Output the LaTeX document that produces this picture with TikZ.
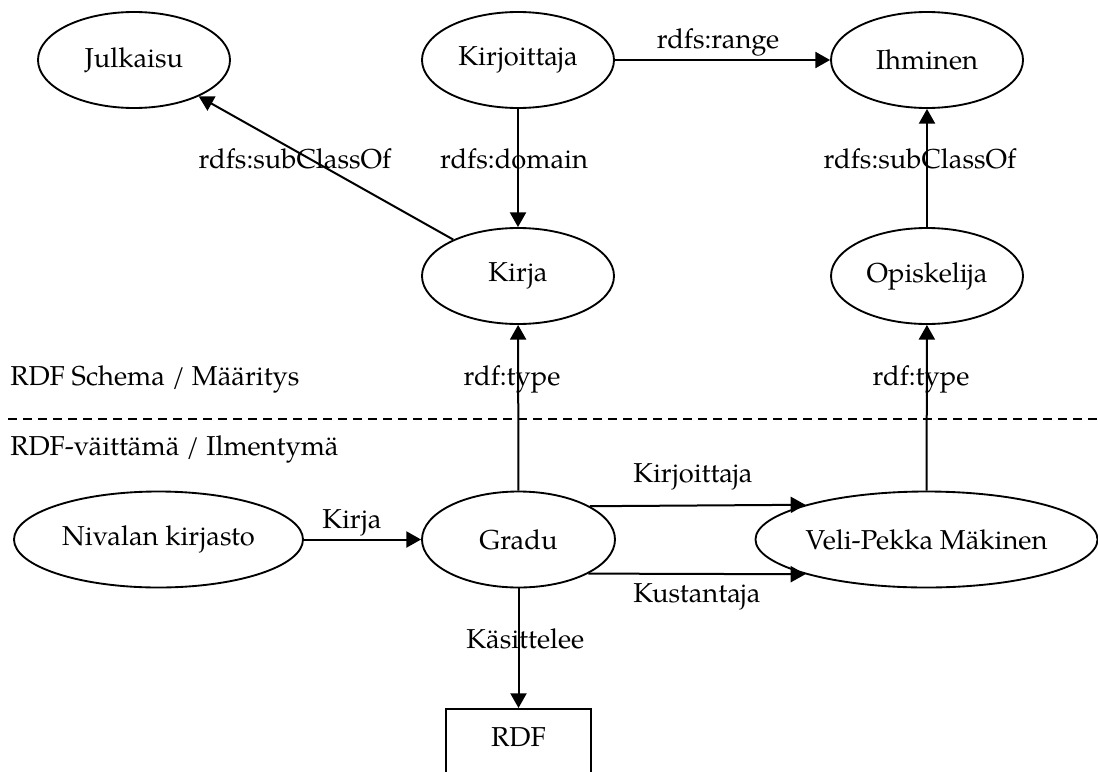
\documentclass[tikz,border=0pt]{standalone}
\usepackage{fontspec}
\setmainfont{TeX Gyre Pagella}
\usetikzlibrary{arrows.meta,shapes.geometric}

\tikzset{
  every node/.style={font=\fontsize{20.5}{24}\selectfont},
  cls/.style={ellipse, draw, line width=1.4pt, inner sep=0pt,
              minimum width=144pt, minimum height=72pt},
  arr/.style={line width=1.5pt, -{Triangle[length=11pt,width=12pt]}},
  lab/.style={anchor=base, inner sep=0pt},
  labw/.style={anchor=base west, inner sep=0pt},
  divider/.style={line width=1.4pt, dash pattern=on 6.75pt off 4.5pt},
  litbox/.style={rectangle, draw, line width=1.4pt, anchor=north,
                 minimum width=108.75pt, text height=20pt, text depth=40pt,
                 inner ysep=8.5pt}
}

\begin{document}
\begin{tikzpicture}[x=0.75pt, y=-0.75pt]
\useasboundingbox (0,0) rectangle (1098,771);

% schema level classes
\node[cls] (jul)   at (134,60)  {Julkaisu};
\node[cls] (kirj)  at (518,60)  {Kirjoittaja};
\node[cls] (ihm)   at (927,60)  {Ihminen};
\node[cls] (kirja) at (518,276) {Kirja};
\node[cls] (opis)  at (927,276) {Opiskelija};

% instance level resources
\node[cls, minimum width=216.75pt] (niv)   at (158.5,539.5) {Nivalan kirjasto};
\node[cls, minimum width=144.75pt] (gradu) at (518.5,539.5) {Gradu};
\node[cls, minimum width=252.75pt] (veli)  at (926.5,539.5) {Veli-Pekka Mäkinen};
\node[litbox] (rdf) at (518.5,708) {RDF};

% layer divider and captions
\coordinate (divL) at (8,419);
\coordinate (divR) at (1098,419);
\draw[divider] (divL) -- (divR);
\node[labw] (schemaCap) at (10,385) {RDF Schema / Määritys};
\node[labw] (instCap)   at (10,455) {RDF-väittämä / Ilmentymä};

% schema relations
\draw[arr] (kirj) -- (ihm);
\draw[arr] (kirj) -- (kirja);
\draw[arr] (kirja) -- (jul);
\draw[arr] (opis) -- (ihm);

% type links across the layers
\draw[arr] (gradu) -- (kirja);
\draw[arr] (veli) -- (opis);

% instance statements
\draw[arr] (niv) -- (gradu);
\draw[arr] (gradu.25.9) -- (veli.164.5);
\draw[arr] (gradu.-26.5) -- (veli.-164.0);
\draw[arr] (gradu) -- (rdf);

% edge labels
\node[lab] (lRange)  at (718,48)  {rdfs:range};
\node[lab] (lDomain) at (514,168) {rdfs:domain};
\node[lab] (lSubL)   at (295,168) {rdfs:subClassOf};
\node[lab] (lSubR)   at (920,168) {rdfs:subClassOf};
\node[lab] (lTypeL)  at (512,385) {rdf:type};
\node[lab] (lTypeR)  at (921,385) {rdf:type};
\node[labw] (lKirja) at (322,528) {Kirja};
\node[labw] (lAuth)  at (633,482) {Kirjoittaja};
\node[labw] (lPubl)  at (633,602) {Kustantaja};
\node[labw] (lTopic) at (466,648) {Käsittelee};
\end{tikzpicture}
\end{document}
